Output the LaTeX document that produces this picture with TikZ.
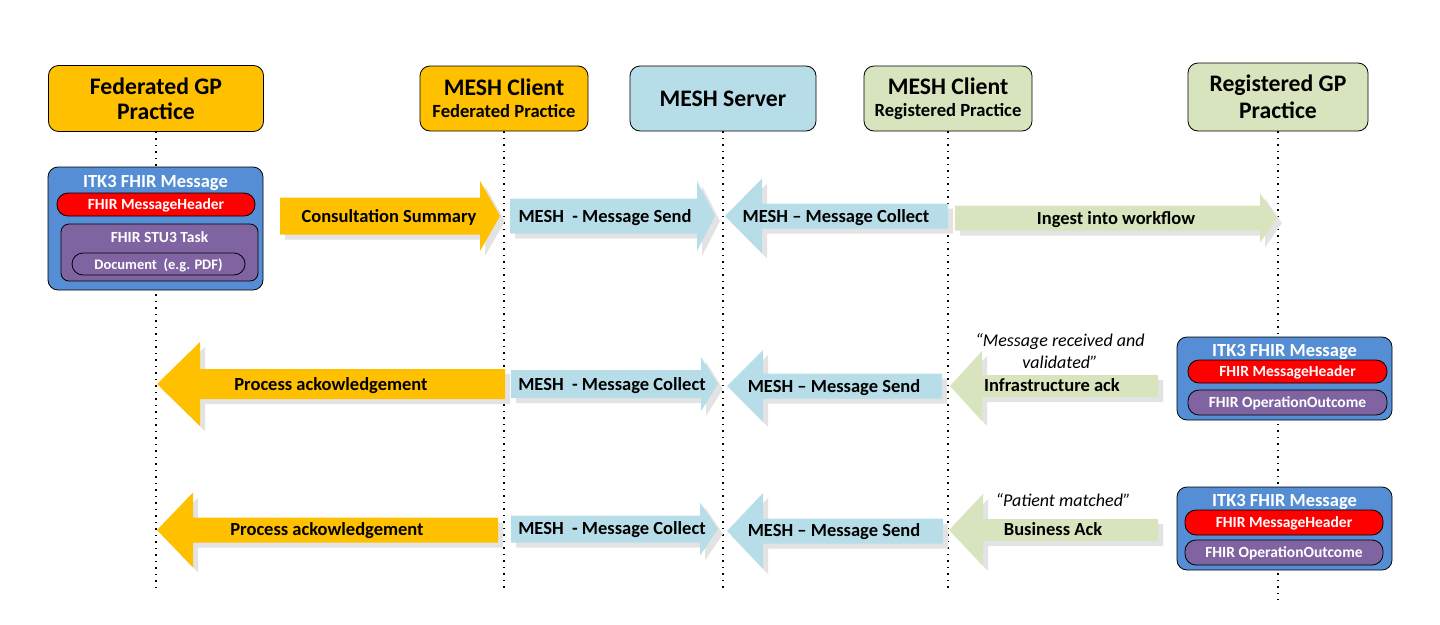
\documentclass[tikz,border=0pt]{standalone}
\usepackage{fontspec}
\setmainfont{Carlito}
\usetikzlibrary{positioning}

\definecolor{fedorange}{HTML}{FFC000}
\definecolor{meshblue}{HTML}{B7DEE8}
\definecolor{reggreen}{HTML}{D7E4BD}
\definecolor{msgblue}{HTML}{558ED5}
\definecolor{hdrred}{HTML}{FF0000}
\definecolor{taskpurple}{HTML}{8064A2}

% block arrow: [style]{tail x}{head base x}{tip x}{y}{half shaft}{half head}
\newcommand{\msgarrow}[7][]{%
  \fill[arrowshade] (#2,#5-#6) -- (#3,#5-#6) -- (#3,#5-#7) -- (#4,#5)
    -- (#3,#5+#7) -- (#3,#5+#6) -- (#2,#5+#6) -- cycle;
  \fill[#1] (#2,#5-#6) -- (#3,#5-#6) -- (#3,#5-#7) -- (#4,#5)
    -- (#3,#5+#7) -- (#3,#5+#6) -- (#2,#5+#6) -- cycle;}

\begin{document}
\begin{tikzpicture}[
    x=1pt, y=-1pt,
    hdr/.style={rectangle, rounded corners=10pt, draw=black, line width=0.8pt,
                align=center, inner sep=0pt, font=\fontsize{23.7}{25}\selectfont\bfseries},
    msgbox/.style={rectangle, rounded corners=10pt, draw=black, line width=0.8pt,
                fill=msgblue, inner sep=0pt},
    msgtitle/.style={font=\fontsize{18.5}{20}\selectfont\bfseries, text=white, inner sep=0pt,
                text height=12pt, text depth=0pt},
    pill/.style={rectangle, rounded corners=11pt, draw=black, line width=0.8pt,
                text=white, inner sep=0pt, text height=10pt, text depth=0pt,
                font=\fontsize{15.5}{17}\selectfont\bfseries},
    taskbox/.style={rectangle, rounded corners=8pt, draw=black, line width=0.8pt,
                fill=taskpurple, inner sep=0pt},
    arrowtext/.style={font=\fontsize{18.5}{20}\selectfont\bfseries, inner sep=0pt,
                text height=12pt, text depth=0pt},
    saying/.style={font=\fontsize{18}{22.5}\selectfont\itshape, align=center, inner sep=0pt},
    arrowshade/.style={fill=black!11, xshift=5pt, yshift=-5pt},
    lifeline/.style={line width=1.1pt, dash pattern=on 1.1pt off 5.4pt}
]
\useasboundingbox (0,0) rectangle (1440,624);

% Participants
\node[hdr, fill=fedorange, minimum width=215, minimum height=66] (fedgp) at (156,98.5) {Federated GP\\Practice};
\node[hdr, fill=fedorange, minimum width=168, minimum height=65] (meshfed) at (504,98.5)
    {MESH Client\\[-3pt]{\fontsize{18.6}{20}\selectfont Federated Practice}};
\node[hdr, fill=meshblue, minimum width=186, minimum height=65] (meshsrv) at (723,98.5) {MESH Server};
\node[hdr, fill=reggreen, minimum width=168, minimum height=65] (meshreg) at (948,98.5)
    {MESH Client\\[-3pt]{\fontsize{18.6}{20}\selectfont Registered Practice}};
\node[hdr, fill=reggreen, minimum width=180, minimum height=68] (reggp) at (1278,97) {Registered GP\\[2pt]Practice};

% Lifelines
\foreach \n/\e in {fedgp/588, meshfed/588, meshsrv/588, meshreg/588, reggp/600} {
    \coordinate (\n-end) at (\n.south |- 0,\e);
    \draw[lifeline] (\n.south) -- (\n-end);
}

% Outgoing message
\node[msgbox, minimum width=215, minimum height=123] (fedmsg) at (155.5,228.5) {};
\node[msgtitle] (fedmsgtitle) at (155.5,181) {ITK3 FHIR Message};
\node[pill, fill=hdrred, minimum width=198, minimum height=23] (fedhdr) at (156,204.5) {FHIR MessageHeader};
\node[taskbox, minimum width=197, minimum height=57] (fedtask) at (159.5,252.5) {};
\node[pill, draw=none, fill=none] (fedtasktitle) at (159.5,237) {FHIR STU3 Task};
\node[pill, fill=taskpurple, minimum width=173, minimum height=22,
      font=\fontsize{14.5}{16}\selectfont\bfseries] (feddoc) at (158.5,264) {Document\ \ (e.g. PDF)};

% Infrastructure ack message
\node[msgbox, minimum width=215, minimum height=83] (infmsg) at (1284.5,378.5) {};
\node[msgtitle] (infmsgtitle) at (1284.5,350) {ITK3 FHIR Message};
\node[pill, fill=hdrred, minimum width=199, minimum height=23] (infhdr) at (1287.5,371.5) {FHIR MessageHeader};
\node[pill, fill=taskpurple, minimum width=199, minimum height=25] (infout) at (1287.5,402.5) {FHIR OperationOutcome};

% Business ack message
\node[msgbox, minimum width=215, minimum height=83] (busmsg) at (1284.5,528.5) {};
\node[msgtitle] (busmsgtitle) at (1284.5,500) {ITK3 FHIR Message};
\node[pill, fill=hdrred, minimum width=198, minimum height=25] (bushdr) at (1284,522.5) {FHIR MessageHeader};
\node[pill, fill=taskpurple, minimum width=198, minimum height=25] (busout) at (1284,552.5) {FHIR OperationOutcome};

% Row 1 - send
\msgarrow[fedorange]{280}{480}{500}{216}{18.5}{35}
\msgarrow[meshblue]{510}{697}{715}{216}{17.5}{35}
\msgarrow[meshblue]{948}{762}{725}{216}{12.5}{37.5}
\msgarrow[reggreen]{955}{1260}{1277}{218}{12.5}{24.5}
\node[arrowtext] (consult) at (389,216) {Consultation Summary};
\node[arrowtext] (send1) at (605,216) {MESH\ \ - Message Send};
\node[arrowtext] (collect1) at (836,216) {MESH -- Message Collect};
\node[arrowtext] (ingest) at (1116,218) {Ingest into workflow};

% Row 2 - infrastructure ack
\msgarrow[fedorange]{505}{200}{157}{384}{15}{42}
\msgarrow[meshblue]{511}{701}{718}{384}{14}{27}
\msgarrow[meshblue]{942}{763}{727}{386}{12.5}{36}
\msgarrow[reggreen]{1158}{982}{950}{386}{11}{35}
\node[arrowtext] (ack2) at (331,384) {Process ackowledgement};
\node[arrowtext] (collect2) at (612,384) {MESH\ \ - Message Collect};
\node[arrowtext] (send2) at (834,386) {MESH -- Message Send};
\node[arrowtext] (infack) at (1052,385) {Infrastructure ack};
\node[saying] (infsaying) at (1060,351) {“Message received and\\validated”};

% Row 3 - business ack
\msgarrow[fedorange]{498}{193}{157}{530}{12.5}{37.5}
\msgarrow[meshblue]{511}{700}{718}{529}{13.5}{26.5}
\msgarrow[meshblue]{943}{763}{727}{531}{12.5}{38}
\msgarrow[reggreen]{1158}{983}{949}{530}{11}{36}
\node[arrowtext] (ack3) at (327,529) {Process ackowledgement};
\node[arrowtext] (collect3) at (612,528) {MESH\ \ - Message Collect};
\node[arrowtext] (send3) at (834,530) {MESH -- Message Send};
\node[arrowtext] (busack) at (1053,529) {Business Ack};
\node[saying] (bussaying) at (1063,500) {“Patient matched”};

\end{tikzpicture}
\end{document}
